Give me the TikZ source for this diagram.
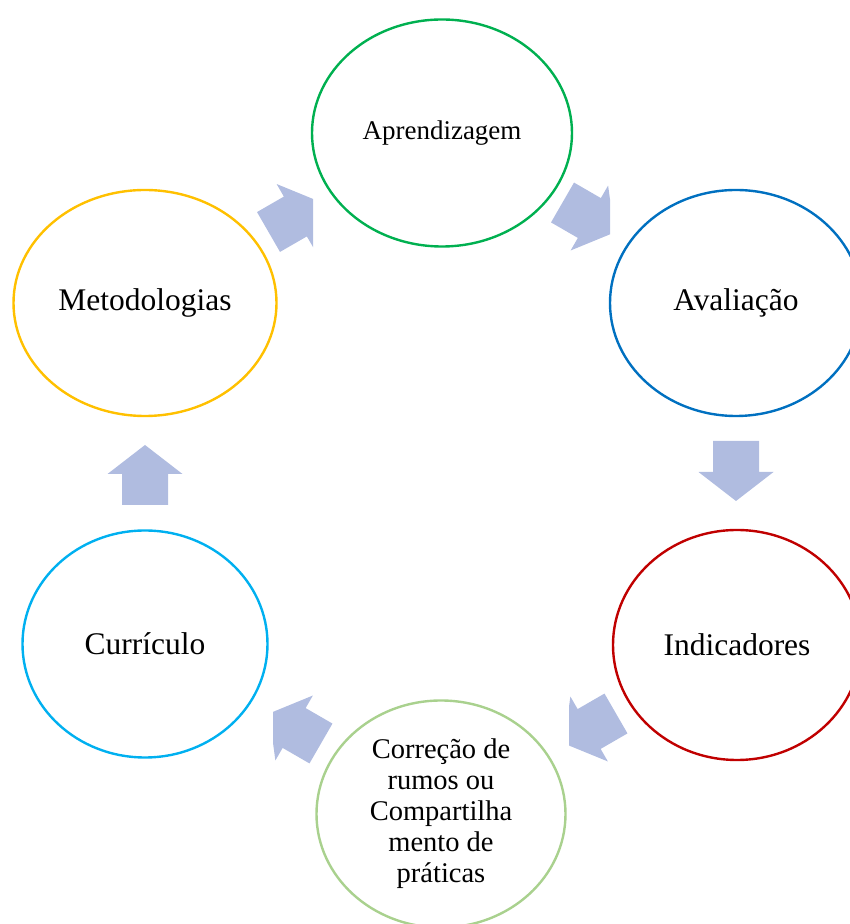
\documentclass[tikz,border=0pt]{standalone}
\usepackage{fontspec}
\setmainfont{Liberation Serif}
\usetikzlibrary{shapes.geometric}

\definecolor{cGreen}{RGB}{0,176,80}
\definecolor{cBlue}{RGB}{0,112,192}
\definecolor{cRed}{RGB}{192,0,0}
\definecolor{cLightGreen}{RGB}{169,209,142}
\definecolor{cCyan}{RGB}{0,176,240}
\definecolor{cYellow}{RGB}{255,192,0}
\definecolor{cArrow}{RGB}{176,188,224}

\tikzset{
  stage/.style={ellipse, draw, line width=2.4pt, inner sep=0pt, align=center,
    font=\fontsize{31.5}{36}\selectfont},
  blockarrow/.style={fill=cArrow, draw=none},
}

% block arrow pointing along +x, centred on the origin
\newcommand\blockarrowpath{(-30,-23) -- (1,-23) -- (1,-37.5) -- (30,0) -- (1,37.5) -- (1,23) -- (-30,23) -- cycle}

\begin{document}
\begin{tikzpicture}[x=1pt,y=1pt]
\useasboundingbox (0,0) rectangle (850,924);
\clip (0,0) rectangle (850,924);

% the six stages of the cycle
\node[stage, draw=cGreen, minimum width=260, minimum height=227,
      font=\fontsize{27}{31}\selectfont] (apr) at (442,791) {Aprendizagem};
\node[stage, draw=cBlue, minimum width=252, minimum height=226] (ava) at (736,621) {Avaliação};
\node[stage, draw=cRed, minimum width=248, minimum height=230] (ind) at (737,279) {Indicadores};
\node[stage, draw=cLightGreen, minimum width=249, minimum height=227,
      font=\fontsize{28.5}{31}\selectfont] (cor) at (441,110)
      {Correção de\\rumos ou\\Compartilha\\mento de\\práticas};
\node[stage, draw=cCyan, minimum width=245, minimum height=227] (cur) at (145,280) {Currículo};
\node[stage, draw=cYellow, minimum width=263, minimum height=226] (met) at (145,621) {Metodologias};

% arrows between consecutive stages
\begin{scope}
  \clip (0,0) rectangle (313,924);
  \fill[blockarrow, shift={(294.5,707)}, rotate=30] \blockarrowpath;
\end{scope}
\begin{scope}
  \clip (0,0) rectangle (610,924);
  \fill[blockarrow, shift={(588.5,706.5)}, rotate=-30] \blockarrowpath;
\end{scope}
\fill[blockarrow, shift={(736,453)}, rotate=-90] \blockarrowpath;
\begin{scope}
  \clip (569,0) rectangle (850,924);
  \fill[blockarrow, shift={(590,195.5)}, rotate=-150] \blockarrowpath;
\end{scope}
\begin{scope}
  \clip (273,0) rectangle (850,924);
  \fill[blockarrow, shift={(295,195.5)}, rotate=150] \blockarrowpath;
\end{scope}
\fill[blockarrow, shift={(145,449)}, rotate=90] \blockarrowpath;
\end{tikzpicture}
\end{document}
